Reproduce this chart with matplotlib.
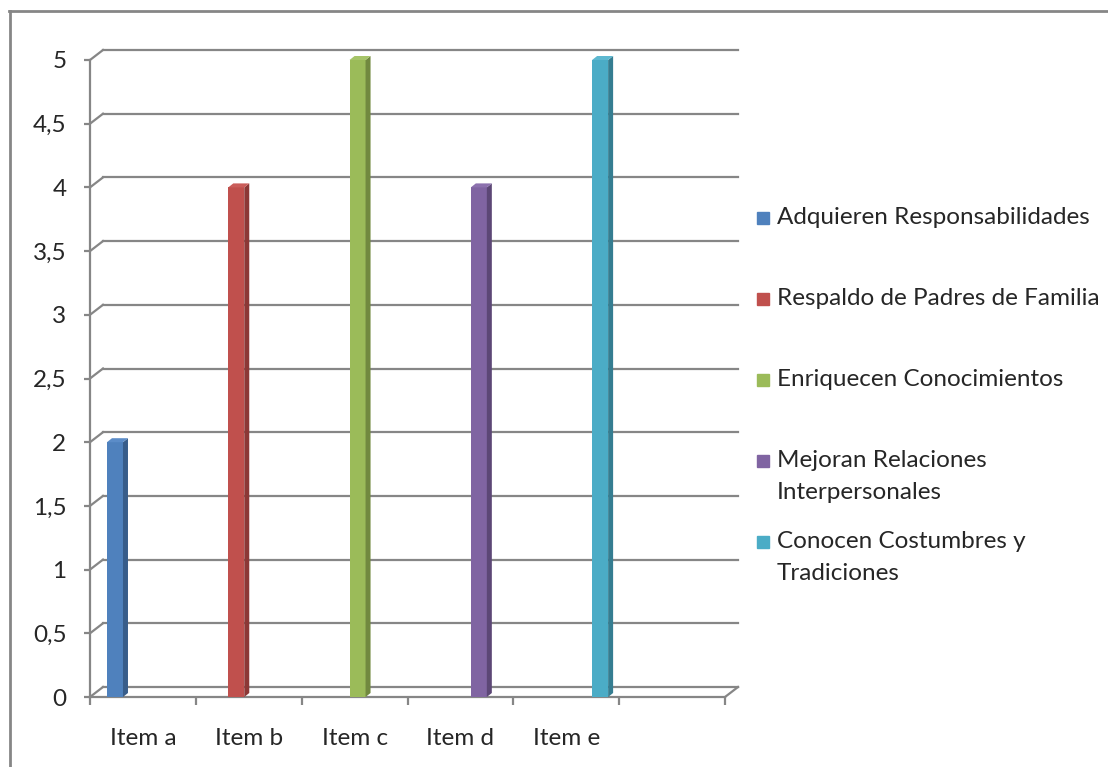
import numpy as np
import matplotlib
matplotlib.use("Agg")
import matplotlib.pyplot as plt
from matplotlib.patches import Polygon, Rectangle
from matplotlib.lines import Line2D

# ---- data ----
categories = ["Item a", "Item b", "Item c", "Item d", "Item e"]
series_names = ["Adquieren Responsabilidades",
                "Respaldo de Padres de Familia",
                "Enriquecen Conocimientos",
                "Mejoran Relaciones\nInterpersonales",
                "Conocen Costumbres y\nTradiciones"]
values = [2, 4, 5, 4, 5]
colors = ["#4F81BD", "#C0504D", "#9BBB59", "#8064A2", "#4BACC6"]
side_colors = ["#385D8A", "#8C3836", "#71893F", "#5C4776", "#357D91"]
top_colors = ["#5B8CC8", "#CA5D5A", "#A6C468", "#8C71AE", "#5DB8D0"]
yticks = np.arange(0, 5.01, 0.5)

plt.rcParams['font.family'] = ['Lato', 'DejaVu Sans']
W, H = 1108, 767
fig = plt.figure(figsize=(W / 100, H / 100), dpi=100)

# axes: x 0..6 -> px 90..725 ; y 0..5 -> px 697..60
ax_l, ax_r, ax_b, ax_t = 90, 725, 697, 60
ax = fig.add_axes([ax_l / W, (H - ax_b) / H, (ax_r - ax_l) / W, (ax_b - ax_t) / H])
nslots = 6
ax.set_xlim(0, nslots)
ax.set_ylim(0, 5)
px_x = nslots / (ax_r - ax_l)
px_y = 5 / (ax_b - ax_t)

grid_c = "#868686"
text_c = "#262626"
fs = 17.5

for s in ["top", "right"]:
    ax.spines[s].set_visible(False)
for s in ["left", "bottom"]:
    ax.spines[s].set_color(grid_c)
    ax.spines[s].set_linewidth(1.6)
    ax.spines[s].set_zorder(2)

# y ticks
ax.set_yticks(yticks)
ax.set_yticklabels([("%g" % v).replace(".", ",") for v in yticks])
ax.tick_params(axis="y", direction="out", length=4.5, width=1.6, color=grid_c,
               labelsize=fs, labelcolor=text_c, pad=12.5)
# x ticks
ax.set_xticks(np.arange(0, nslots + 1))
ax.set_xticklabels([])
ax.set_xticks(np.arange(len(categories)) + 0.5, minor=True)
ax.set_xticklabels(categories, minor=True)
ax.tick_params(axis="x", which="major", direction="out", length=5.5, width=1.6, color=grid_c)
ax.tick_params(axis="x", which="minor", length=0, labelsize=fs, labelcolor=text_c, pad=22)

# back wall / floor
dx, dy = 13 * px_x, 10 * px_y
for v in yticks:
    ax.add_line(Line2D([0, dx], [v, v + dy], color=grid_c, lw=1.6, zorder=1, clip_on=False))
    ax.add_line(Line2D([dx, nslots + dx], [v + dy, v + dy], color=grid_c, lw=1.6, zorder=1,
                       clip_on=False))
ax.add_line(Line2D([nslots, nslots + dx], [0, dy], color=grid_c, lw=1.6, zorder=1, clip_on=False))

# bars
hw = 8 * px_x
bdx, bdy = 5 * px_x, 4 * px_y
start, step = 0.236, 1.146
for i, v in enumerate(values):
    c = start + i * step
    ax.bar(c, v, width=2 * hw, color=colors[i], zorder=3, linewidth=0)
    ax.add_patch(Polygon([(c + hw, 0), (c + hw + bdx, bdy), (c + hw + bdx, v + bdy), (c + hw, v)],
                         closed=True, color=side_colors[i], zorder=3, lw=0, clip_on=False))
    ax.add_patch(Polygon([(c - hw, v), (c + hw, v), (c + hw + bdx, v + bdy), (c - hw + bdx, v + bdy)],
                         closed=True, color=top_colors[i], zorder=3, lw=0, clip_on=False))

# legend (manual, pixel layout)
leg_y = [218, 299, 380, 461, 542]
for i, name in enumerate(series_names):
    y = leg_y[i]
    fig.patches.append(Rectangle((757 / W, (H - y - 6) / H), 12 / W, 12 / H,
                                 transform=fig.transFigure, color=colors[i]))
    fig.text(777 / W, (H - y + 11) / H, name, fontsize=fs, color=text_c,
             va="top", ha="left", linespacing=1.62)

# outer frame (left and top)
fig.add_artist(Line2D([9.5 / W, 9.5 / W], [0, (H - 10.5) / H], transform=fig.transFigure,
                      color=grid_c, lw=2))
fig.add_artist(Line2D([8.5 / W, 1], [(H - 10.5) / H, (H - 10.5) / H], transform=fig.transFigure,
                      color=grid_c, lw=2))

fig.savefig("out.png", dpi=100)
